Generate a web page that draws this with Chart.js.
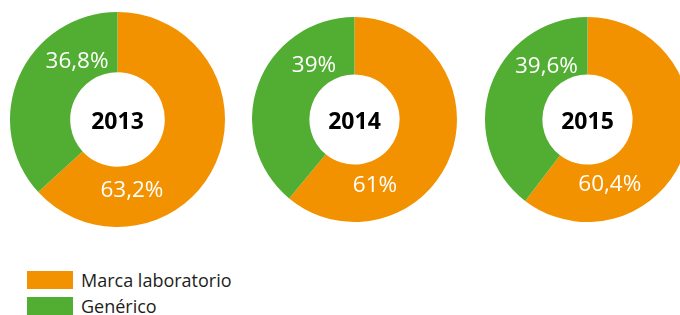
<!DOCTYPE html>
<html>
<head>
<meta charset="utf-8">
<script src="https://cdn.jsdelivr.net/npm/chart.js@4"></script>
<style>
  html, body { margin: 0; padding: 0; background: #fff; width: 680px; height: 315px; overflow: hidden; }
  canvas { position: absolute; }
  #leyenda { position: absolute; left: 27px; top: 271px; font-family: "Open Sans", sans-serif; font-size: 18px; color: #1d1d1b; }
  .item { display: flex; align-items: center; height: 18px; margin-bottom: 7.5px; }
  .caja { width: 46px; height: 18px; margin-right: 8px; }
</style>
</head>
<body>
<canvas id="g2013" width="215" height="215" style="left:10px; top:11.5px"></canvas>
<canvas id="g2014" width="205" height="205" style="left:251.5px; top:16.5px"></canvas>
<canvas id="g2015" width="205" height="205" style="left:484.5px; top:17px"></canvas>
<div id="leyenda"></div>
<script>
/* Datos */
var anios = ['2013', '2014', '2015'];
var categorias = ['Marca laboratorio', 'Genérico'];
var marca = [63.2, 61, 60.4];
var generico = [36.8, 39, 39.6];

var colores = ['#f39200', '#52ae32'];

function formato(v) {
  return String(v).replace('.', ',') + '%';
}

/* Etiquetas dentro del anillo y año en el centro */
var etiquetas = {
  id: 'etiquetas',
  afterDatasetsDraw: function (chart) {
    var ctx = chart.ctx;
    var meta = chart.getDatasetMeta(0);
    var valores = chart.data.datasets[0].data;
    ctx.save();
    ctx.fillStyle = '#fff';
    ctx.font = '22.5px "Open Sans"';
    ctx.textAlign = 'center';
    ctx.textBaseline = 'middle';
    var cx = 0, cy = 0;
    meta.data.forEach(function (arc, i) {
      var p = arc.getProps(['x', 'y', 'startAngle', 'endAngle', 'outerRadius'], true);
      var ang = p.startAngle + 0.74 * (p.endAngle - p.startAngle);
      var r = p.outerRadius * 0.665;
      ctx.fillText(formato(valores[i]), p.x + Math.cos(ang) * r, p.y + Math.sin(ang) * r + 1);
      cx = p.x; cy = p.y;
    });
    ctx.fillStyle = '#000';
    ctx.font = 'bold 23px "Open Sans"';
    ctx.fillText(chart.options.plugins.title.text, cx, cy + 3);
    ctx.restore();
  }
};

anios.forEach(function (anio, k) {
  var marco = document.getElementById('g' + anio).getContext('2d');
  new Chart(marco, {
    type: 'doughnut',
    data: {
      labels: categorias,
      datasets: [{
        data: [marca[k], generico[k]],
        backgroundColor: colores,
        borderWidth: 0
      }]
    },
    options: {
      responsive: false,
      animation: false,
      devicePixelRatio: 1,
      cutout: '44%',
      layout: { padding: 0 },
      plugins: {
        legend: { display: false },
        tooltip: { enabled: false },
        title: { display: false, text: anio }
      }
    },
    plugins: [etiquetas]
  });
});

/* Leyenda */
var leyenda = document.getElementById('leyenda');
categorias.forEach(function (c, i) {
  var item = document.createElement('div');
  item.className = 'item';
  item.innerHTML = '<div class="caja" style="background:' + colores[i] + '"></div><span>' + c + '</span>';
  leyenda.appendChild(item);
});
</script>
</body>
</html>
